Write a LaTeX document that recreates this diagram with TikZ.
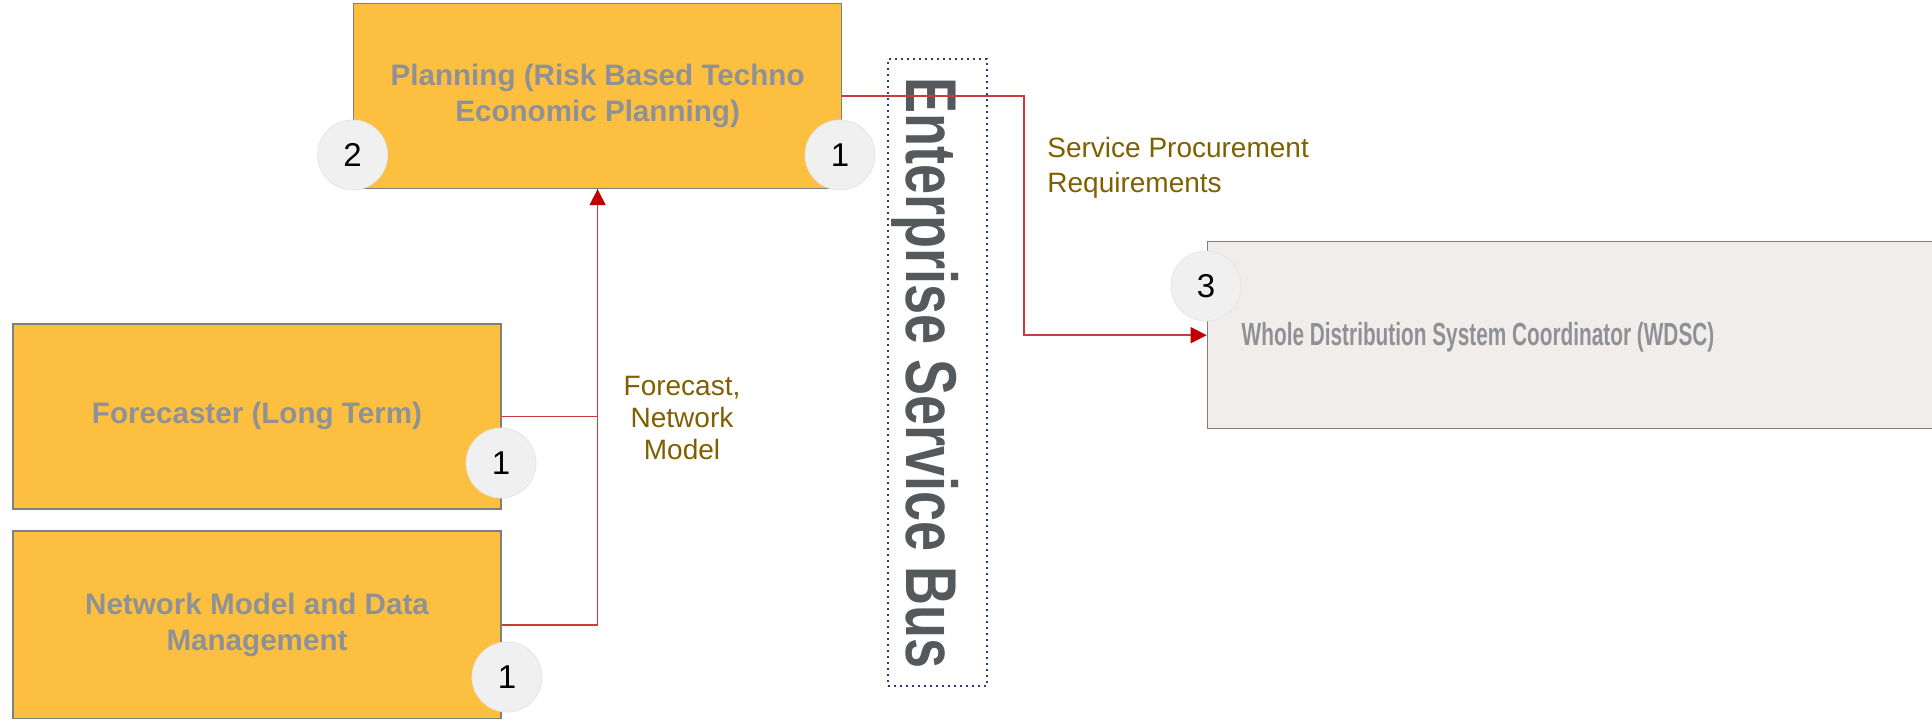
\documentclass[tikz,border=0pt]{standalone}
\usepackage{fontspec}
\setmainfont{Liberation Sans}
\usetikzlibrary{arrows.meta}
\definecolor{boxfill}{HTML}{FDBF3F}
\definecolor{boxline}{HTML}{7F7F7F}
\definecolor{boxtext}{HTML}{8E9196}
\definecolor{wdscfill}{HTML}{F0EDEA}
\definecolor{badgefill}{HTML}{F0F0F0}
\definecolor{lbl}{HTML}{7F6000}
\definecolor{conn}{HTML}{C83C3C}
\definecolor{tipred}{HTML}{C00000}
\definecolor{esbline}{HTML}{2E3A87}
\definecolor{esbtext}{HTML}{55595C}
\begin{document}
\begin{tikzpicture}[x=0.5pt,y=-0.5pt,
  box/.style={draw=boxline, line width=0.7pt, fill=boxfill, minimum width=244pt, inner sep=0pt},
  boxlabel/.style={text=boxtext, font=\fontsize{14.8pt}{18pt}\selectfont\bfseries, align=center},
  badge/.style={circle, fill=badgefill, draw=black!10, line width=0.4pt, minimum size=35pt, inner sep=0pt, font=\fontsize{16.5pt}{18pt}\selectfont},
  flow/.style={draw=conn, line width=0.8pt},
  flowarrow/.style={flow, -{Triangle[width=8pt,length=8pt,color=tipred]}},
  flowlabel/.style={text=lbl, font=\fontsize{14pt}{16pt}\selectfont, inner sep=0pt}]

\useasboundingbox (0,0) rectangle (1932,721);

% boxes
\node[box, minimum height=92.4pt, boxlabel] (plan) at (597.6,96.1) {Planning (Risk Based Techno\\Economic Planning)};
\node[box, minimum height=92.4pt, boxlabel] (fore) at (257,416.4) {Forecaster (Long Term)};
\node[box, minimum height=93.6pt, boxlabel] (net) at (257,624.7) {Network Model and Data\\Management};
\node[box, fill=wdscfill, minimum width=364.3pt, minimum height=93.6pt] (wdsc) at (1571.7,335.2) {};
\node[boxlabel, font=\fontsize{16pt}{18pt}\selectfont\bfseries] (wdsctext) at (1478,337) {\scalebox{0.65}[1]{Whole Distribution System Coordinator (WDSC)}};

% enterprise service bus
\node[draw=esbline, dotted, line width=1pt, minimum width=49.5pt, minimum height=313.5pt, inner sep=0pt] (esb) at (937,372.5) {};
\node[rotate=-90, anchor=base, text=esbtext, font=\fontsize{36pt}{40pt}\selectfont\bfseries, inner sep=0pt] (esbtext) at (906,373) {\scalebox{0.75}[1]{Enterprise Service Bus}};

% badges
\node[badge] (b2) at (352.6,155) {2};
\node[badge] (b1p) at (840,155) {1};
\node[badge] (b1f) at (501,463) {1};
\node[badge] (b1n) at (507,677) {1};
\node[badge] (b3) at (1206,286) {3};

% connectors
\coordinate (bend) at (1024,96.1);
\draw[flow] (fore.east) -| (plan.south);
\draw[flowarrow] (net.east) -| (plan.south);
\draw[flowarrow] (plan.east) -- (bend) |- (wdsc.west);

% labels
\node[flowlabel, align=center] (lblfc) at (682,418) {Forecast,\\Network\\Model};
\node[flowlabel, align=left, anchor=west, font=\fontsize{14pt}{17.5pt}\selectfont] (lblsp) at (1047,168) {Service Procurement\\Requirements};
\end{tikzpicture}
\end{document}
